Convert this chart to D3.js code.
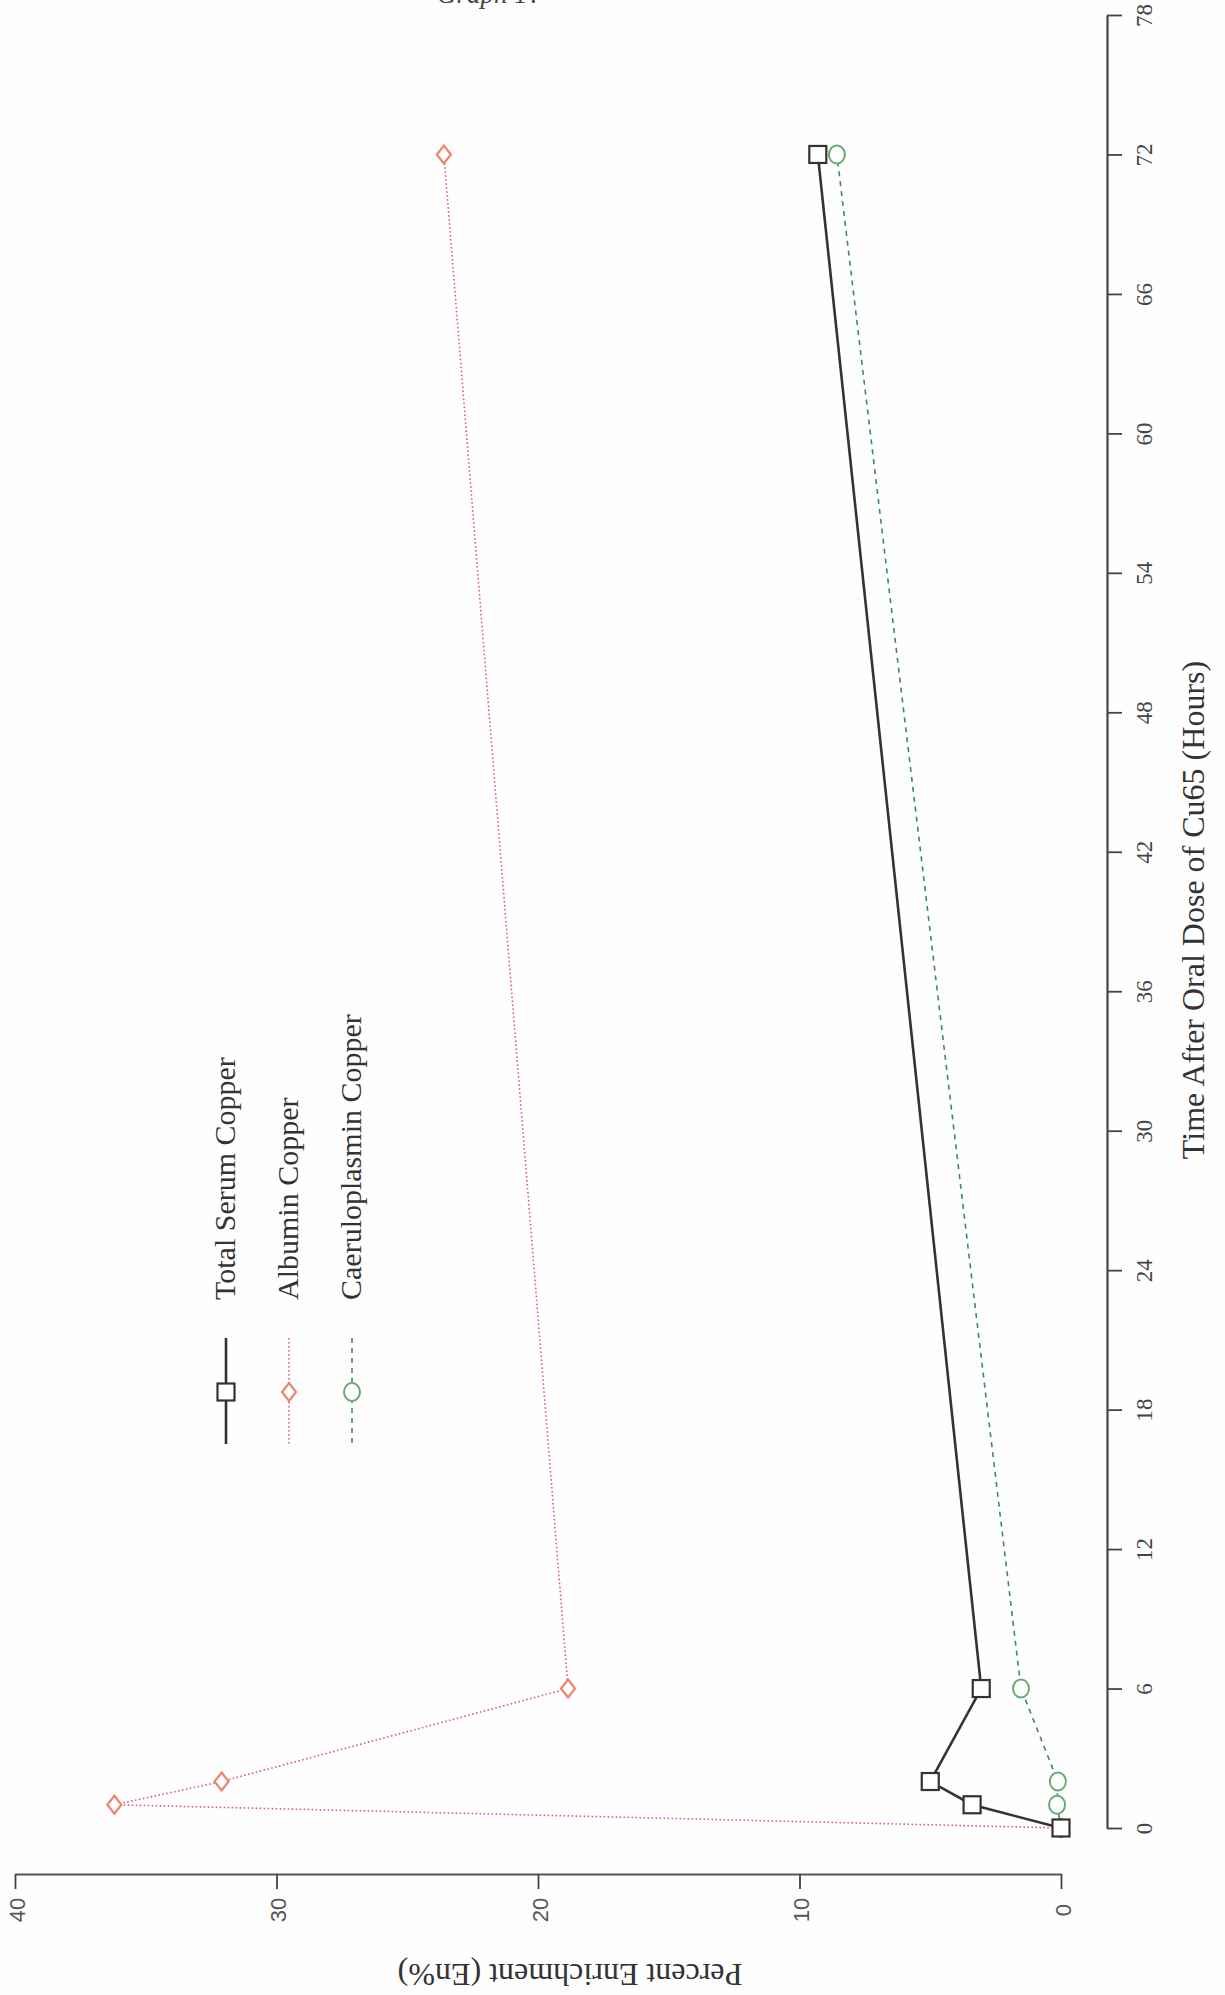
<!DOCTYPE html>
<html>
<head>
<meta charset="utf-8">
<script src="https://cdn.jsdelivr.net/npm/d3@7"></script>
<style>
  html, body { margin: 0; padding: 0; background: #fefefe; }
  svg { display: block; }
</style>
</head>
<body>
<svg id="chart" width="1225" height="1995"></svg>
<script>
// ---- data ----
const hours = [0, 1, 2, 6, 72];
const totalSerumCopper = [0, 3.4, 5.0, 3.05, 9.3];
const albuminCopper = [0, 36.2, 32.1, 18.85, 23.6];
const caeruloplasminCopper = [0, 0.15, 0.12, 1.53, 8.57];

const timeTicks = [0, 6, 12, 18, 24, 30, 36, 42, 48, 54, 60, 66, 72, 78];
const valueTicks = [0, 10, 20, 30, 40];

const seriesNames = ["Total Serum Copper", "Albumin Copper", "Caeruloplasmin Copper"];
const titleText = "Graph 1?";
const timeLabel = "Time After Oral Dose of Cu65 (Hours)";
const valueLabel = "Percent Enrichment (En%)";

// ---- setup ----
const svg = d3.select("#chart");
const serif = "'Liberation Serif', 'Times New Roman', serif";
const sans = "'Liberation Sans', Arial, sans-serif";

// chart is rotated: time runs bottom -> top, value runs right -> left
const ty = d3.scaleLinear().domain([0, 78]).range([1828, 15]);
const vx = d3.scaleLinear().domain([0, 40]).range([1061, 15]);

// title (clipped at top of page)
svg.append("text")
  .attr("x", 437).attr("y", 3)
  .attr("font-family", serif).attr("font-style", "italic")
  .attr("font-size", 27).attr("fill", "#444")
  .text(titleText);

// ---- time axis (right side) ----
const gT = svg.append("g").attr("transform", "translate(1107,0)")
  .call(d3.axisRight(ty).tickValues(timeTicks).tickSize(15).tickSizeOuter(0).tickFormat(d3.format("d")));
gT.select(".domain").attr("stroke", "#444").attr("stroke-width", 2.2);
gT.selectAll(".tick line").attr("stroke", "#444").attr("stroke-width", 1.8);
gT.selectAll(".tick text")
  .attr("x", null).attr("dy", null)
  .attr("transform", "translate(45,0) rotate(-90)")
  .attr("text-anchor", "middle")
  .attr("font-family", serif).attr("font-size", 23).attr("fill", "#444");

svg.append("text")
  .attr("transform", "translate(1204,910) rotate(-90)")
  .attr("text-anchor", "middle")
  .attr("font-family", serif).attr("font-size", 32).attr("fill", "#333")
  .text(timeLabel);

// ---- value axis (bottom) ----
const gV = svg.append("g").attr("transform", "translate(0,1874)")
  .call(d3.axisBottom(vx).tickValues(valueTicks).tickSize(15).tickSizeOuter(0).tickFormat(d3.format("d")));
gV.select(".domain").attr("stroke", "#555").attr("stroke-width", 2);
gV.selectAll(".tick line").attr("stroke", "#444").attr("stroke-width", 1.8);
gV.selectAll(".tick text")
  .attr("y", null).attr("dy", null)
  .attr("transform", "translate(9,36) rotate(-90)")
  .attr("text-anchor", "middle")
  .attr("font-family", sans).attr("font-size", 22).attr("fill", "#555");

svg.append("text")
  .attr("transform", "translate(570,1964) rotate(180)")
  .attr("text-anchor", "middle")
  .attr("font-family", serif).attr("font-size", 32).attr("fill", "#333")
  .text(valueLabel);

// ---- series ----
const styles = [
  { values: totalSerumCopper, line: "#333", width: 2.6, dash: null, marker: "square", mstroke: "#333" },
  { values: albuminCopper, line: "#d6607a", width: 1.6, dash: "1.6,2.4", marker: "diamond", mstroke: "#e8866e" },
  { values: caeruloplasminCopper, line: "#3f8a5e", width: 1.6, dash: "5,5", marker: "circle", mstroke: "#6aaa72" }
];

function drawMarker(g, type, x, y, stroke) {
  if (type === "square") {
    g.append("rect").attr("x", x - 8.5).attr("y", y - 8.5).attr("width", 17).attr("height", 17)
      .attr("fill", "#fff").attr("stroke", stroke).attr("stroke-width", 2.2);
  } else if (type === "diamond") {
    g.append("path").attr("d", `M${x},${y - 9}L${x + 7},${y}L${x},${y + 9}L${x - 7},${y}Z`)
      .attr("fill", "#fff").attr("stroke", stroke).attr("stroke-width", 2.2);
  } else {
    g.append("ellipse").attr("cx", x).attr("cy", y).attr("rx", 8).attr("ry", 9)
      .attr("fill", "#fff").attr("stroke", stroke).attr("stroke-width", 2);
  }
}

const line = d3.line().x(d => vx(d[1])).y(d => ty(d[0]));
// draw albumin, caeruloplasmin, then total on top
[1, 2, 0].forEach(i => {
  const s = styles[i];
  const pts = hours.map((h, k) => [h, s.values[k]]);
  const g = svg.append("g");
  g.append("path").attr("d", line(pts)).attr("fill", "none")
    .attr("stroke", s.line).attr("stroke-width", s.width)
    .attr("stroke-dasharray", s.dash);
  pts.forEach(p => drawMarker(g, s.marker, vx(p[1]), ty(p[0]), s.mstroke));
});

// ---- legend ----
const legendX = [226, 289, 352];
seriesNames.forEach((name, i) => {
  const s = styles[i];
  const g = svg.append("g");
  g.append("line").attr("x1", legendX[i]).attr("x2", legendX[i]).attr("y1", 1338).attr("y2", 1444)
    .attr("stroke", s.line).attr("stroke-width", s.width).attr("stroke-dasharray", s.dash);
  drawMarker(g, s.marker, legendX[i], 1392, s.mstroke);
  g.append("text")
    .attr("transform", `translate(${legendX[i] + 9},1300) rotate(-90)`)
    .attr("font-family", serif).attr("font-size", 30).attr("fill", "#333")
    .text(name);
});
</script>
</body>
</html>
